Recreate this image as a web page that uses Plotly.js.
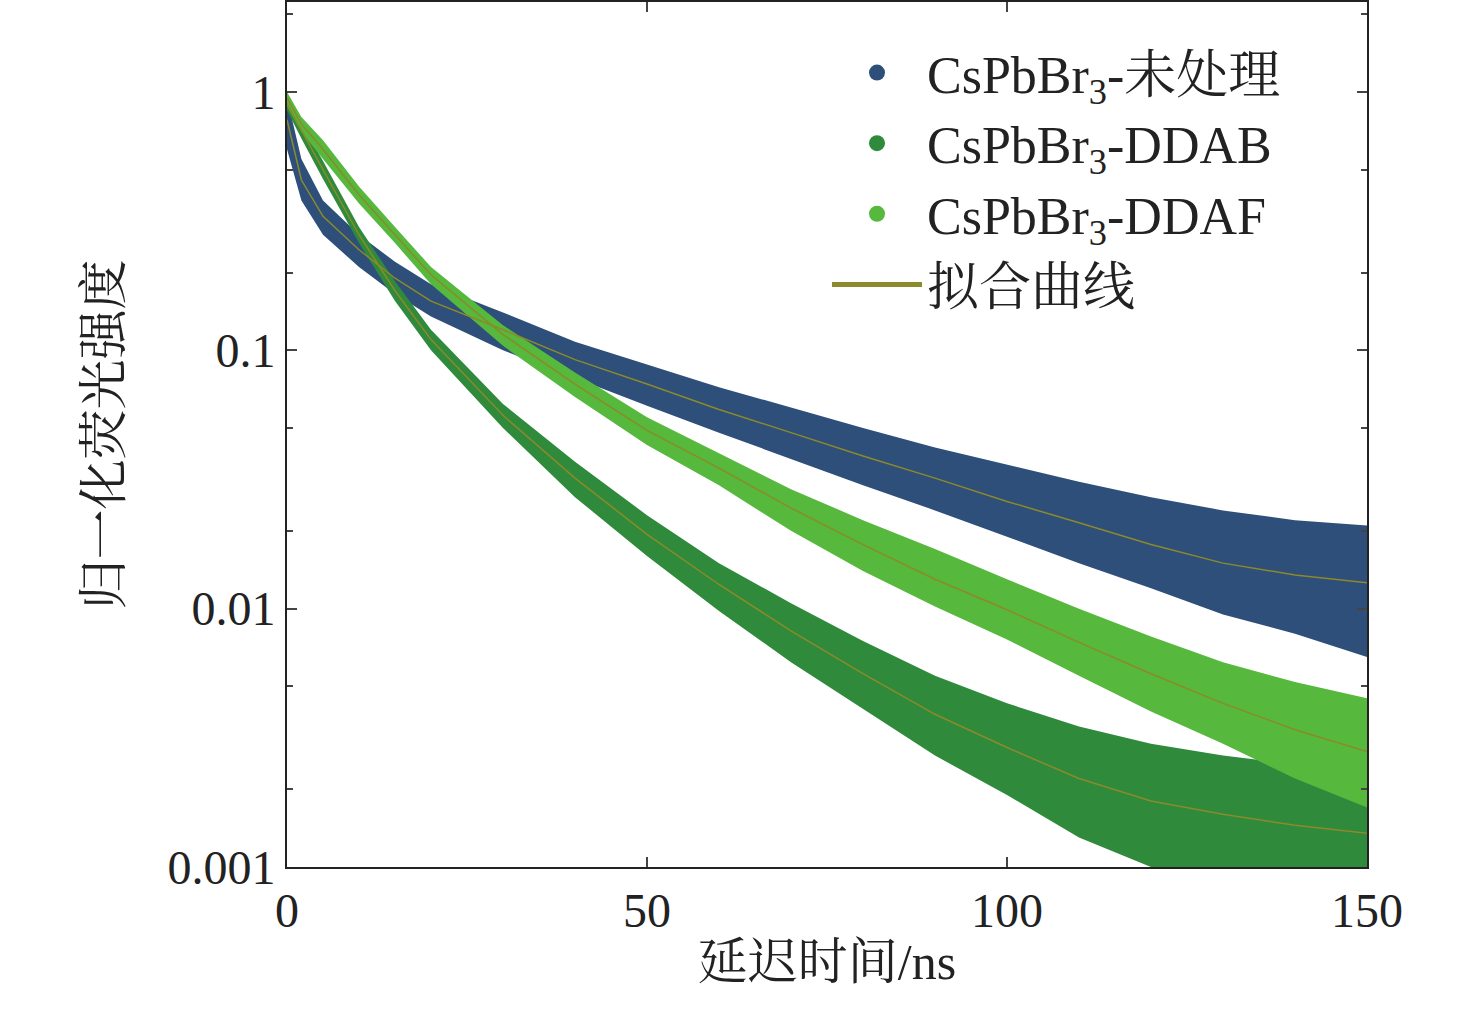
<!DOCTYPE html><html><head><meta charset="utf-8"><script src="https://cdn.plot.ly/plotly-3.0.1.min.js"></script></head><body style="margin:0"><div id="c" style="width:1476px;height:1009px"></div><script>
const T=[0,2,5,10,15,20,30,40,50,60,70,80,90,100,110,120,130,140,150];
const fitRaw=[0.78,0.456,0.33,0.245,0.19,0.155,0.12,0.092,0.074,0.059,0.048,0.039,0.032,0.026,0.0215,0.0177,0.015,0.0135,0.0126];
const upRaw=[0.95,0.55,0.38,0.28,0.22,0.18,0.14,0.108,0.088,0.072,0.06,0.05,0.042,0.036,0.031,0.027,0.024,0.022,0.021];
const loRaw=[0.6,0.38,0.28,0.21,0.165,0.135,0.1,0.078,0.061,0.048,0.038,0.03,0.024,0.019,0.015,0.012,0.0095,0.008,0.0065];
const fitDDAF=[0.95,0.75,0.60,0.40,0.28,0.196,0.115,0.074,0.049,0.035,0.0245,0.0177,0.013,0.0099,0.0074,0.0056,0.0043,0.0034,0.0028];
const upDDAF=[1.0,0.8,0.65,0.43,0.30,0.21,0.125,0.082,0.055,0.04,0.029,0.022,0.017,0.013,0.01,0.0078,0.0062,0.0052,0.0045];
const loDDAF=[0.88,0.7,0.55,0.37,0.26,0.18,0.104,0.066,0.043,0.03,0.02,0.014,0.0102,0.0076,0.0055,0.004,0.003,0.0022,0.0017];
const fitDDAB=[0.9,0.71,0.50,0.28,0.17,0.11,0.056,0.032,0.0194,0.0124,0.0082,0.0056,0.0039,0.0029,0.0022,0.0018,0.0016,0.00145,0.00135];
const upDDAB=[0.95,0.76,0.54,0.3,0.185,0.12,0.062,0.037,0.023,0.015,0.0105,0.0075,0.0055,0.0043,0.0035,0.003,0.0027,0.0025,0.0024];
const loDDAB=[0.85,0.66,0.46,0.26,0.155,0.1,0.05,0.027,0.016,0.0098,0.0062,0.0041,0.0027,0.0019,0.0013,0.001,0.001,0.001,0.001];
const names=['CsPbBr<sub>3</sub>-未处理','CsPbBr<sub>3</sub>-DDAB','CsPbBr<sub>3</sub>-DDAF','拟合曲线'];
const cols=['#2d4f7a','#2f8a3b','#56b83c','#8c8a2a'];
const sets=[[upRaw,loRaw,fitRaw],[upDDAB,loDDAB,fitDDAB],[upDDAF,loDDAF,fitDDAF]];
const data=[];
sets.forEach((s,i)=>{
 data.push({x:T,y:s[1],mode:'lines',line:{width:0,color:cols[i]},showlegend:false,hoverinfo:'skip'});
 data.push({x:T,y:s[0],mode:'lines',line:{width:0,color:cols[i]},fill:'tonexty',fillcolor:cols[i],opacity:0.9,showlegend:false,hoverinfo:'skip'});
});
sets.forEach((s,i)=>data.push({x:T,y:s[2],mode:'lines',line:{width:1.5,color:cols[3]},showlegend:false}));
[0,1,2].forEach(i=>data.push({x:[null],y:[null],mode:'markers',name:names[i],marker:{size:30,color:cols[i]}}));
data.push({x:[null],y:[null],mode:'lines',name:names[3],line:{width:5,color:cols[3]}});
const f="Liberation Serif, Noto Serif CJK SC, Noto Sans CJK SC, serif";
Plotly.newPlot('c',data,{width:1476,height:1009,margin:{l:287,r:109,t:2,b:142},
 font:{family:f,size:48,color:'#222'},paper_bgcolor:'white',plot_bgcolor:'white',
 xaxis:{range:[0,150],tickvals:[0,50,100,150],ticks:'inside',ticklen:10,tickwidth:2,mirror:'ticks',showline:true,linewidth:2,linecolor:'#222',showgrid:false,zeroline:false,title:{text:'延迟时间/ns',font:{size:50},standoff:8}},
 yaxis:{type:'log',range:[-3,0.348],tickvals:[0.001,0.01,0.1,1],ticktext:['0.001','0.01','0.1','1'],ticks:'inside',ticklen:10,tickwidth:2,mirror:'ticks',showline:true,linewidth:2,linecolor:'#222',showgrid:false,zeroline:false,minor:{ticks:'inside',ticklen:6,tickwidth:1.5,dtick:'D2',showgrid:false},title:{text:'归一化荧光强度',font:{size:50},standoff:30}},
 legend:{x:0.5,y:0.965,xanchor:'left',yanchor:'top',traceorder:'normal',bgcolor:'rgba(0,0,0,0)',font:{size:52},itemwidth:90,tracegroupgap:10}
},{displayModeBar:false});
</script></body></html>
